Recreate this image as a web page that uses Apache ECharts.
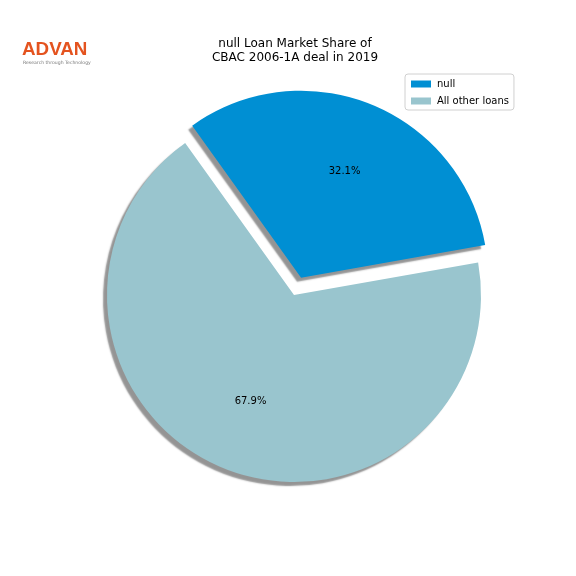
<!DOCTYPE html>
<html><head><meta charset="utf-8">
<script src="https://cdn.jsdelivr.net/npm/echarts@6/dist/echarts.min.js"></script>
<style>html,body{margin:0;padding:0;background:#fff}#c{width:576px;height:576px}</style>
</head><body><div id="c"></div>
<script>
const categories = ['null', 'All other loans'];
const shares = [32.1, 67.9];
const colors = ['#008fd3', '#99c5ce'];
const titleLines = ['null Loan Market Share of', 'CBAC 2006-1A deal in 2019'];

const R = 187;
const center = [294, 295];
const explode = 0.1 * R;
const data = categories.map((n, i) => ({ name: n, value: shares[i], selected: i === 0, itemStyle: { color: colors[i] } }));
const labelData = categories.map((n, i) => ({ name: n, value: shares[i], selected: i === 0 }));

const chart = echarts.init(document.getElementById('c'), null, { renderer: 'canvas' });
chart.setOption({
  animation: false,
  legend: {
    orient: 'vertical', left: 405, top: 74, padding: [5, 5, 4, 6],
    itemWidth: 20, itemHeight: 7, itemGap: 7, icon: 'rect',
    borderColor: '#d0d0d0', borderWidth: 1, borderRadius: 3,
    textStyle: { fontFamily: 'DejaVu Sans', fontSize: 10, color: '#000', padding: [0, 0, 0, 1] },
    data: categories
  },
  graphic: [
    { type: 'text', x: 295, y: 37, style: { text: titleLines.join('\n'), font: '12px "DejaVu Sans"', fill: '#000', align: 'center', verticalAlign: 'top', lineHeight: 14 } },
    { type: 'text', left: 22, top: 40, style: { text: 'ADVAN', font: 'bold 18.8px "Liberation Sans"', fill: '#e4531f' } },
    { type: 'text', left: 23, top: 60, style: { text: 'Research through Technology', font: '4.6px "DejaVu Sans"', fill: '#777' } }
  ],
  series: [
    {
      type: 'pie', center: center, radius: R, startAngle: 125.6, clockwise: true,
      selectedMode: 'single', selectedOffset: explode, avoidLabelOverlap: false,
      label: { show: false }, labelLine: { show: false },
      itemStyle: { shadowColor: 'rgba(0,0,0,0.42)', shadowBlur: 1.5, shadowOffsetX: -4, shadowOffsetY: 4 },
      emphasis: { disabled: true }, select: { itemStyle: {} },
      data: data
    },
    {
      type: 'pie', center: center, radius: R * 1.2, startAngle: 125.6, clockwise: true, silent: true,
      selectedMode: 'single', selectedOffset: explode, avoidLabelOverlap: false,
      itemStyle: { color: 'rgba(0,0,0,0)' },
      label: { show: true, position: 'inside', formatter: p => p.value.toFixed(1) + '%', fontFamily: 'DejaVu Sans', fontSize: 10, color: '#000' },
      labelLine: { show: false }, emphasis: { disabled: true },
      data: labelData
    }
  ]
});
</script></body></html>
